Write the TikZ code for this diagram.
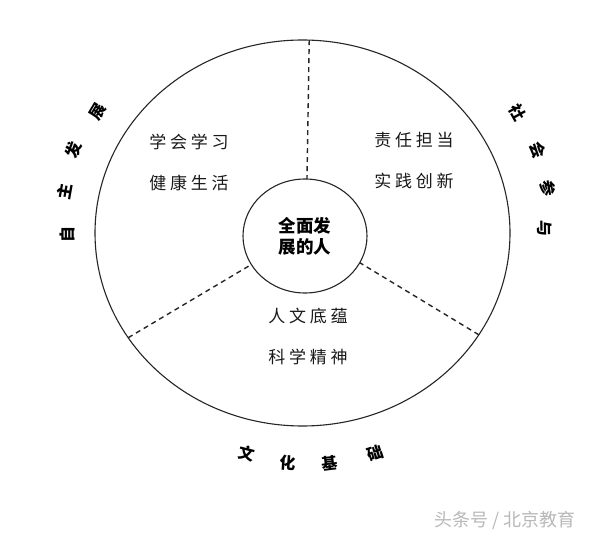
\documentclass[tikz,border=0pt]{standalone}
\usepackage{fontspec}
\usetikzlibrary{shapes.geometric}
\newfontfamily\cjk{Noto Sans CJK SC}
\newfontfamily\cjksp[LetterSpace=22]{Noto Sans CJK SC}
\begin{document}
\begin{tikzpicture}[x=1pt,y=-1pt,
  ring/.style={draw=black!85, line width=1.1pt, ellipse, inner sep=0pt, outer sep=0pt},
  sep/.style={draw=black!85, line width=1.4pt, dash pattern=on 5pt off 4pt},
  lab/.style={font=\cjksp\fontsize{17}{41}\selectfont, align=center, text=black!90, inner sep=0pt},
  rim/.style={font=\cjk\bfseries\fontsize{16}{16}\selectfont, text=black, inner sep=0pt},
  wmark/.style={font=\cjk\fontsize{18}{18}\selectfont, text=black!28, inner sep=0pt}]
\useasboundingbox (0,0) rectangle (600,537);
\fill[white] (0,0) rectangle (600,537);
\node[ring, minimum width=415pt, minimum height=386pt] (outer) at (302.5,233) {};
\node[ring, minimum width=124pt, minimum height=114pt,
      font=\cjk\bfseries\fontsize{17.5}{21}\selectfont, align=center] (inner) at (305,236)
      {全面发\\展的人};
\draw[sep] (outer.88.7) -- (inner.88);
\draw[sep] (outer.211.6) -- (inner.208);
\draw[sep] (outer.-30) -- (inner.-26);
\node[lab] (l1) at (189,162.5) {学会学习\\健康生活};
\node[lab] (l2) at (414,161) {责任担当\\实践创新};
\node[lab] (l3) at (308,336) {人文底蕴\\科学精神};
% rim texts
\node[rim, rotate=90] (a1) at (67,235) {自};
\node[rim, rotate=80] (a2) at (65,192) {主};
\node[rim, rotate=70] (a3) at (73,150) {发};
\node[rim, rotate=59] (a4) at (98,112) {展};
\node[rim, rotate=-61] (b1) at (518,113) {社};
\node[rim, rotate=-71] (b2) at (538,150) {会};
\node[rim, rotate=-80] (b3) at (548,188) {参};
\node[rim, rotate=-89] (b4) at (545,228) {与};
\node[rim, rotate=-14] (c1) at (247,453) {文};
\node[rim, rotate=-4] (c2) at (288,463) {化};
\node[rim, rotate=7] (c3) at (330,463) {基};
\node[rim, rotate=18] (c4) at (375,453) {础};
\node[wmark] (wm) at (505,520) {头条号 / 北京教育};
\end{tikzpicture}
\end{document}
